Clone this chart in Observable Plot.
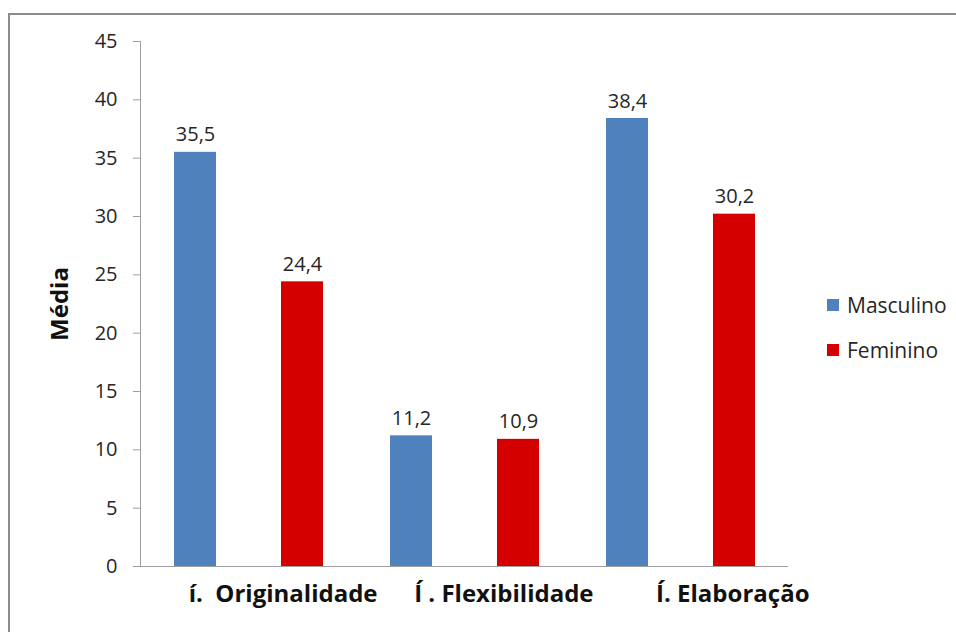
<!DOCTYPE html>
<html>
<head>
<meta charset="utf-8">
<script src="https://cdn.jsdelivr.net/npm/d3@7"></script>
<script src="https://cdn.jsdelivr.net/npm/@observablehq/plot@0.6"></script>
<style>
  html, body { margin: 0; padding: 0; background: #fff; overflow: hidden; }
  #wrap { position: relative; width: 956px; height: 632px; font-family: "Open Sans", sans-serif; }
  #frame { position: absolute; left: 8px; top: 13px; width: 1000px; height: 700px;
           border-left: 2px solid #8c8c8c; border-top: 2px solid #8c8c8c; }
  #chart { position: absolute; left: 0; top: 0; }
  #chart text { white-space: pre; }
  .lg-sw { position: absolute; width: 12px; height: 12px; }
  .lg-tx { position: absolute; font-size: 21px; line-height: 21px; color: #262626; white-space: nowrap; }
</style>
</head>
<body>
<div id="wrap">
  <div id="frame"></div>
  <div id="chart"></div>
  <div id="legend"></div>
</div>
<script>
// ---- data ----
const categories = ["í.  Originalidade", "Í . Flexibilidade", "Í. Elaboração"];
const sexes = ["Masculino", "Feminino"];
const masculino = [35.5, 11.2, 38.4];
const feminino = [24.4, 10.9, 30.2];
const yTicks = [0, 5, 10, 15, 20, 25, 30, 35, 40, 45];
const colors = ["#4F81BD", "#D40000"];
const yLabel = "Média";

const series = { Masculino: masculino, Feminino: feminino };
const data = categories.flatMap((c, i) => sexes.map(s => ({ cat: c, sex: s, v: series[s][i] })));
const fmt = v => v.toFixed(1).replace(".", ",");

const plot = Plot.plot({
  width: 956,
  height: 632,
  marginTop: 41,
  marginBottom: 66,
  marginLeft: 140,
  marginRight: 168,
  style: { fontFamily: "Open Sans", fontSize: "20px", color: "#262626", background: "transparent", overflow: "visible" },
  fx: { domain: categories, padding: 0 },
  x: { domain: sexes, axis: null, paddingInner: 0.6075, paddingOuter: 0.313 },
  y: { domain: [0, 45], axis: null },
  color: { domain: sexes, range: colors },
  marks: [
    Plot.frame({ anchor: "left", stroke: "#a0a0a0", facetAnchor: "left" }),
    Plot.axisY({ ticks: yTicks, tickSize: 7, tickPadding: 16, stroke: "#a0a0a0", fill: "#262626", label: null, fontSize: 20 }),
    Plot.axisY({ ticks: [], tickSize: 0, label: yLabel, labelArrow: "none", labelAnchor: "center", labelOffset: 90, fontSize: 24, fontWeight: "bold", fill: "#111" }),
    Plot.axisFx({ anchor: "bottom", tickSize: 0, tickPadding: 18, textAnchor: "end", dx: 129, fontSize: 24, fontWeight: "bold", fill: "#111", label: null }),
    Plot.barY(data, { fx: "cat", x: "sex", y: "v", fill: "sex" }),
    Plot.ruleY([0], { stroke: "#a0a0a0" }),
    Plot.text(data, { fx: "cat", x: "sex", y: "v", text: d => fmt(d.v), dy: -11, lineAnchor: "bottom", fontSize: 20, fill: "#262626" })
  ]
});
document.getElementById("chart").appendChild(plot);

// legend (HTML, outside the SVG)
const legend = document.getElementById("legend");
const swTop = [299, 344];
sexes.forEach((s, i) => {
  const sw = document.createElement("div");
  sw.className = "lg-sw";
  sw.style.left = "827px";
  sw.style.top = swTop[i] + "px";
  sw.style.background = plot.scale("color").apply(s);
  legend.appendChild(sw);
  const tx = document.createElement("div");
  tx.className = "lg-tx";
  tx.style.left = "847px";
  tx.style.top = (swTop[i] - 4) + "px";
  tx.textContent = s;
  legend.appendChild(tx);
});
</script>
</body>
</html>
